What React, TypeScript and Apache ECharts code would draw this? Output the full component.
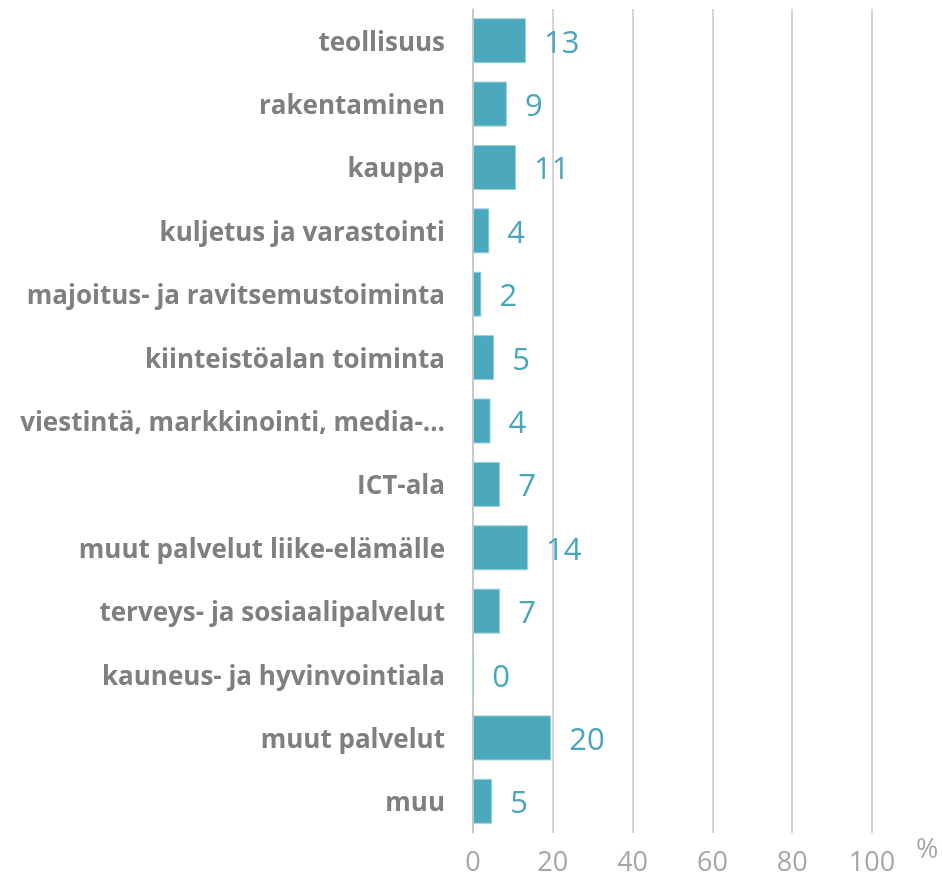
import React, { useEffect, useRef } from "react";
import * as echarts from "echarts";

const categories = [
  "teollisuus",
  "rakentaminen",
  "kauppa",
  "kuljetus ja varastointi",
  "majoitus- ja ravitsemustoiminta",
  "kiinteistöalan toiminta",
  "viestintä, markkinointi, media-…",
  "ICT-ala",
  "muut palvelut liike-elämälle",
  "terveys- ja sosiaalipalvelut",
  "kauneus- ja hyvinvointiala",
  "muut palvelut",
  "muu",
];

const values = [13.3, 8.5, 10.8, 4.1, 2.1, 5.3, 4.4, 6.8, 13.8, 6.8, 0.3, 19.6, 4.8];

const xTicks = [0, 20, 40, 60, 80, 100];

export default function App() {
  const ref = useRef<HTMLDivElement>(null);
  useEffect(() => {
    if (!ref.current) return;
    const chart = echarts.init(ref.current, undefined, { renderer: "svg" });
    chart.setOption({
      animation: false,
      grid: { left: 473, right: 70, top: 9, bottom: 55, containLabel: false },
      xAxis: {
        type: "value",
        min: xTicks[0],
        max: xTicks[xTicks.length - 1],
        interval: 20,
        axisLine: { show: false },
        axisTick: { show: false },
        splitLine: { show: true, lineStyle: { color: "#C6C6C6", width: 1.5 } },
        axisLabel: {
          color: "#A6A6A6",
          fontFamily: "Open Sans",
          fontSize: 27,
          margin: 14,
        },
      },
      yAxis: {
        type: "category",
        inverse: true,
        data: categories,
        axisLine: { show: true, lineStyle: { color: "#C6C6C6", width: 1.5 } },
        axisTick: { show: false },
        axisLabel: {
          color: "#7F7F7F",
          fontFamily: "Open Sans",
          fontWeight: "bold",
          fontSize: 26,
          margin: 28,
        },
      },
      series: [
        {
          type: "bar",
          data: values,
          barCategoryGap: "29%",
          itemStyle: { color: "#4BA8BD", borderColor: "#9FD0DC", borderWidth: 1 },
          label: {
            show: true,
            position: "right",
            distance: 18,
            color: "#4AA6BB",
            fontFamily: "Open Sans",
            fontSize: 31,
            formatter: (p: any) => String(Math.round(p.value)),
          },
        },
      ],
      graphic: [
        {
          type: "text",
          left: 916,
          top: 834,
          style: { text: "%", fill: "#A6A6A6", font: "27px 'Open Sans'" },
        },
      ],
    });
    return () => chart.dispose();
  }, []);
  return (
    <div
      ref={ref}
      style={{ position: "fixed", left: 0, top: 0, width: 942, height: 888 }}
    />
  );
}
